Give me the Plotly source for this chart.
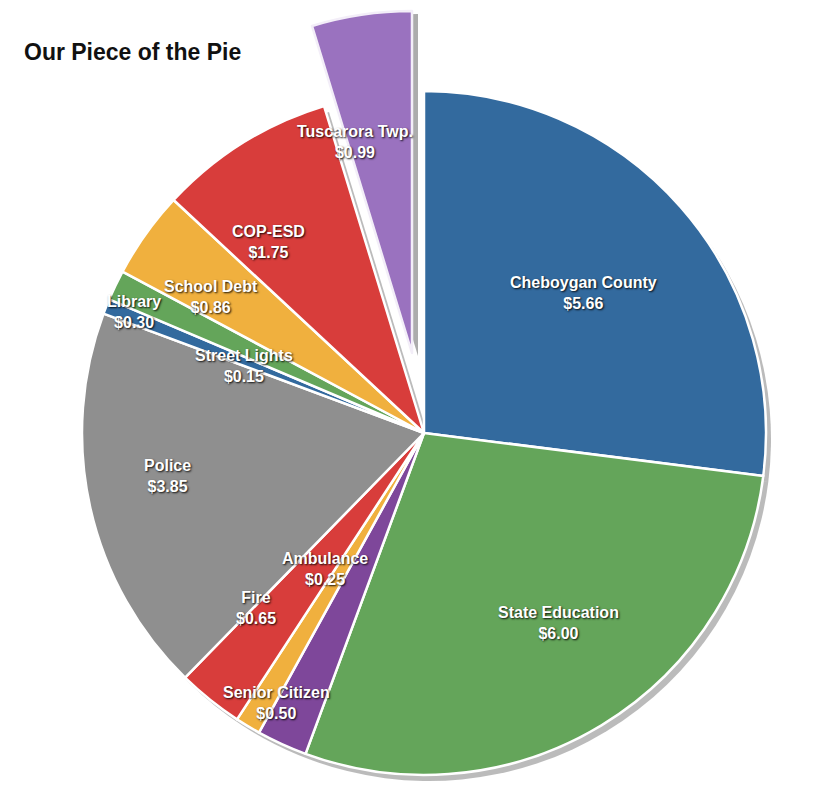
import math
import plotly.graph_objects as go

# ---- data ----
labels = ["Cheboygan County", "State Education", "Senior Citizen", "Ambulance", "Fire",
          "Police", "Street Lights", "Library", "School Debt", "COP-ESD", "Tuscarora Twp."]
values = [5.66, 6.00, 0.50, 0.25, 0.65, 3.85, 0.15, 0.30, 0.86, 1.75, 0.99]
colors = ["#336a9e", "#64a55a", "#7e479a", "#f0b03e", "#d83d3b", "#8f8f8f",
          "#336a9e", "#64a55a", "#f0b03e", "#d83d3b", "#9a72bf"]
pulled = "Tuscarora Twp."
title_text = "Our Piece of the Pie"

# ---- layout geometry (pixels) ----
W, H = 834, 792
PAGE_OFF = 8                        # default body margin of the html page
CX, CY, R = 424 - PAGE_OFF, 433 - PAGE_OFF, 342   # pie centre and radius
SHIFT = (-12, -80)                  # offset of the pulled-out slice
SHADOW = (5, 6)

# label placement: (fraction of radius, angular nudge in degrees)
label_pos = {
    "Cheboygan County": (0.62, 0),
    "State Education": (0.68, -4),
    "Senior Citizen": (0.90, 4),
    "Ambulance": (0.49, 5),
    "Fire": (0.71, 5),
    "Police": (0.76, 3),
    "Street Lights": (0.56, -1.4),
    "Library": (0.92, -3),
    "School Debt": (0.74, -3),
    "COP-ESD": (0.72, -7),
    "Tuscarora Twp.": (0.64, -6.5),
}


def clamp(v):
    return min(1.0, max(0.0, v))


def domain(cx, cy):
    return dict(x=[clamp((cx - R) / W), clamp((cx + R) / W)],
                y=[clamp(1 - (cy + R) / H), clamp(1 - (cy - R) / H)])


TRANSP = "rgba(0,0,0,0)"
is_p = [l == pulled for l in labels]

common = dict(labels=labels, values=values, sort=False, direction="clockwise",
              rotation=0, textinfo="none", showlegend=False)

fig = go.Figure()
# soft shadow under main pie
fig.add_trace(go.Pie(**common, domain=domain(CX + SHADOW[0], CY + SHADOW[1]),
                     marker=dict(colors=[TRANSP if p else "rgba(60,60,60,0.35)" for p in is_p],
                                 line=dict(width=0)), hoverinfo="skip"))
# main pie
fig.add_trace(go.Pie(**common, domain=domain(CX, CY),
                     marker=dict(colors=[TRANSP if p else c for p, c in zip(is_p, colors)],
                                 line=dict(color=[TRANSP if p else "white" for p in is_p],
                                           width=[0 if p else 2.5 for p in is_p]))))
# shadow of pulled slice
fig.add_trace(go.Pie(**common, domain=domain(CX + SHIFT[0] + 6, CY + SHIFT[1] + 3),
                     marker=dict(colors=["rgba(70,70,70,0.45)" if p else TRANSP for p in is_p],
                                 line=dict(width=0)), hoverinfo="skip"))
# pulled slice
fig.add_trace(go.Pie(**common, domain=domain(CX + SHIFT[0], CY + SHIFT[1]),
                     marker=dict(colors=[c if p else TRANSP for p, c in zip(is_p, colors)],
                                 line=dict(color=["#f3eef8" if p else TRANSP for p in is_p],
                                           width=[2.5 if p else 0 for p in is_p]))))

# labels computed from slice mid-angles
total = sum(values)
cum = 0.0
annotations = []
for lab, val in zip(labels, values):
    mid = (cum + val / 2) / total * 360.0
    cum += val
    frac, dth = label_pos[lab]
    th = math.radians(mid + dth)
    cx, cy = (CX + SHIFT[0], CY + SHIFT[1]) if lab == pulled else (CX, CY)
    px = cx + frac * R * math.sin(th)
    py = cy - frac * R * math.cos(th)
    annotations.append(dict(
        x=px / W, y=1 - py / H, xref="paper", yref="paper",
        text=f"{lab}<br>${val:.2f}", showarrow=False,
        font=dict(family="Liberation Sans, Arial", size=16, color="white",
                  weight="bold", shadow="1px 1px 2px rgba(0,0,0,0.9)"),
        align="center", xanchor="center", yanchor="middle"))

fig.update_layout(
    width=W, height=H, margin=dict(l=0, r=0, t=0, b=0),
    paper_bgcolor="white", plot_bgcolor="white",
    title=dict(text=f"<b>{title_text}</b>", x=(24 - PAGE_OFF) / W, xanchor="left",
               y=1 - (52 - PAGE_OFF) / H, yanchor="middle",
               font=dict(family="Liberation Sans, Arial", size=23, color="#111")),
    annotations=annotations,
)

fig.write_html("out.html")
